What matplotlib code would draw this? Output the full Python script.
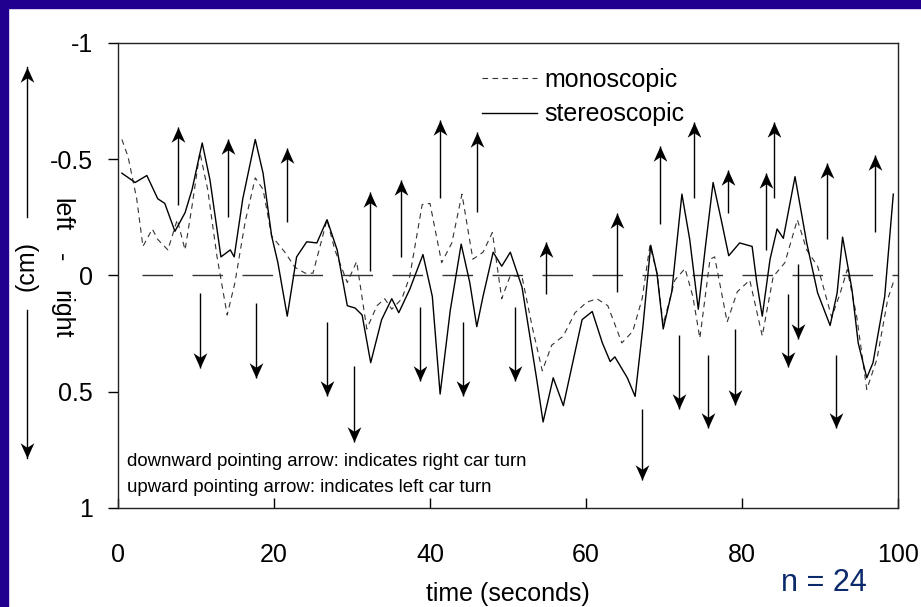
import numpy as np
import matplotlib.pyplot as plt
from matplotlib.lines import Line2D
from matplotlib.patches import Rectangle
from matplotlib.path import Path

plt.rcParams['font.family'] = ['Liberation Sans', 'DejaVu Sans']

# --- lateral position, stereoscopic (solid) ---
stereo_t = [0.5, 2.2, 3.7, 5.1, 6.0, 7.3, 8.6, 9.5, 10.8, 11.8, 13.2, 14.4, 14.9, 16.0,
            17.6, 18.6, 19.7, 20.5, 21.7, 22.9, 24.2, 25.5, 26.8, 28.1, 29.4, 30.4, 31.3,
            32.4, 33.8, 35.1, 36.0, 37.4, 39.1, 40.3, 41.3, 42.6, 44.0, 45.1, 46.0, 46.8,
            48.1, 49.2, 50.3, 51.8, 52.8, 53.7, 54.5, 55.8, 57.1, 58.2, 59.5, 60.8, 62.1,
            63.1, 63.7, 65.3, 66.3, 67.3, 68.3, 69.1, 69.9, 71.0, 72.3, 73.3, 74.4, 75.3,
            76.3, 77.4, 78.3, 79.7, 81.3, 81.9, 82.6, 83.6, 84.5, 85.3, 86.8, 88.3, 89.7,
            91.3, 92.2, 92.9, 94.1, 94.9, 96.0, 96.8, 98.3, 99.4]
stereo_v = [-0.44, -0.40, -0.43, -0.33, -0.31, -0.19, -0.27, -0.37, -0.57, -0.41, -0.08, -0.11,
            -0.08, -0.33, -0.585, -0.44, -0.17, -0.055, 0.175, -0.08, -0.145, -0.14, -0.24,
            -0.11, 0.13, 0.14, 0.17, 0.375, 0.19, 0.10, 0.16, 0.06, -0.09, 0.09, 0.51, 0.15,
            -0.135, 0.03, 0.22, 0.09, -0.10, -0.04, -0.10, 0.05, 0.26, 0.45, 0.63, 0.44, 0.56,
            0.39, 0.19, 0.155, 0.29, 0.37, 0.35, 0.44, 0.52, 0.22, -0.13, -0.01, 0.23, 0.07,
            -0.35, -0.155, 0.145, -0.12, -0.40, -0.23, -0.085, -0.14, -0.125, 0.03, 0.175,
            -0.07, -0.20, -0.16, -0.425, -0.14, 0.075, 0.215, 0.075, -0.165, 0.06, 0.29, 0.44,
            0.375, 0.09, -0.35]

# --- lateral position, monoscopic (dashed) ---
mono_t = [0.5, 1.3, 2.4, 3.2, 4.4, 5.1, 6.4, 7.6, 8.6, 9.5, 10.5, 11.5, 12.7, 14.0, 15.0,
          16.3, 17.6, 18.6, 19.7, 21.4, 22.7, 24.0, 25.0, 26.8, 27.8, 29.4, 30.6, 31.9, 33.2,
          34.2, 35.1, 36.4, 37.4, 39.0, 40.0, 41.5, 42.8, 44.1, 45.5, 46.8, 48.0, 49.2, 50.3,
          51.8, 53.1, 54.4, 55.6, 57.1, 58.6, 60.1, 61.4, 62.8, 64.6, 66.0, 67.2, 68.2, 69.1,
          69.9, 71.4, 72.7, 73.7, 74.6, 75.9, 76.5, 78.1, 79.4, 81.0, 82.6, 84.0, 85.5, 87.1,
          88.3, 89.7, 91.5, 92.6, 93.5, 94.7, 96.0, 97.3, 98.7, 99.4]
mono_v = [-0.585, -0.51, -0.33, -0.125, -0.20, -0.155, -0.11, -0.24, -0.11, -0.30, -0.53, -0.37,
          -0.08, 0.17, 0.03, -0.23, -0.42, -0.37, -0.17, -0.10, -0.035, -0.01, -0.01, -0.24,
          -0.11, 0.03, -0.06, 0.23, 0.13, 0.10, 0.145, 0.10, 0.005, -0.305, -0.31, -0.055,
          -0.14, -0.35, -0.07, -0.10, -0.185, 0.10, 0.0, 0.005, 0.22, 0.41, 0.30, 0.26, 0.16,
          0.115, 0.10, 0.13, 0.29, 0.24, 0.10, -0.13, -0.01, 0.21, 0.02, -0.03, 0.09, 0.27,
          -0.07, -0.08, 0.20, 0.07, 0.02, 0.26, 0.005, -0.055, -0.24, -0.11, -0.04, 0.18,
          0.075, -0.025, 0.175, 0.49, 0.36, 0.10, 0.03]

# --- car turns: left (up arrows) and right (down arrows) ---
up_t = [7.7, 14.1, 21.7, 32.3, 36.3, 41.3, 46.0, 54.9, 64.0, 69.5, 73.8, 78.2, 83.1, 84.1, 90.9, 97.1]
up_tail = [-0.305, -0.25, -0.23, -0.02, -0.08, -0.335, -0.275, 0.08, 0.07, -0.22, -0.335, -0.27,
           -0.11, -0.335, -0.155, -0.185]
up_tip = [-0.64, -0.585, -0.55, -0.357, -0.41, -0.67, -0.615, -0.146, -0.27, -0.555, -0.66, -0.455,
          -0.44, -0.66, -0.485, -0.52]

down_t = [10.5, 17.7, 26.8, 30.3, 38.7, 44.2, 50.9, 67.2, 71.9, 75.6, 79.1, 85.9, 87.2, 92.1]
down_tail = [0.075, 0.12, 0.20, 0.39, 0.135, 0.20, 0.135, 0.575, 0.255, 0.34, 0.23, 0.08, -0.05, 0.34]
down_tip = [0.40, 0.44, 0.52, 0.715, 0.455, 0.52, 0.455, 0.88, 0.575, 0.655, 0.555, 0.395, 0.275, 0.655]

zero_t = [3.1, 100]
zero_v = [0, 0]

# concave arrow heads, tip at the origin
head_up = Path([(0, 0), (0.9, -2), (0, -1.4), (-0.9, -2), (0, 0)],
               [Path.MOVETO, Path.LINETO, Path.LINETO, Path.LINETO, Path.CLOSEPOLY])
head_down = Path([(0, 0), (0.9, 2), (0, 1.4), (-0.9, 2), (0, 0)],
                 [Path.MOVETO, Path.LINETO, Path.LINETO, Path.LINETO, Path.CLOSEPOLY])
head_ms = 22

fig = plt.figure(figsize=(9.21, 6.07), dpi=100)
ax = fig.add_axes([0.1281, 0.1631, 0.8469, 0.7661])

# blue frame on top and left
fig.patches.append(Rectangle((0, 0), 8 / 921, 1, transform=fig.transFigure, color='#210090', zorder=-1))
fig.patches.append(Rectangle((0, 1 - 8 / 607), 1, 8 / 607, transform=fig.transFigure, color='#210090', zorder=-1))

ax.plot(zero_t, zero_v, color='#333333', lw=1.0, linestyle=(0, (22, 14)))
ax.plot(mono_t, mono_v, color='#333333', lw=0.8, linestyle=(0, (5, 4)), dash_joinstyle='round')
ax.plot(stereo_t, stereo_v, color='black', lw=1.0, solid_joinstyle='round')

ax.vlines(up_t, up_tail, up_tip, color='black', lw=1.0)
ax.plot(up_t, up_tip, linestyle='none', marker=head_up, markersize=head_ms,
        color='black', markeredgewidth=0)
ax.vlines(down_t, down_tail, down_tip, color='black', lw=1.0)
ax.plot(down_t, down_tip, linestyle='none', marker=head_down, markersize=head_ms,
        color='black', markeredgewidth=0)

ax.set_xlim(0, 100)
ax.set_ylim(1, -1)
ax.set_xticks([0, 20, 40, 60, 80, 100])
ax.set_yticks([-1, -0.5, 0, 0.5, 1])
ax.set_yticklabels(['-1', '-0.5', '0', '0.5', '1'])
ax.tick_params(axis='x', direction='in', length=7, width=1, pad=25, labelsize=18)
ax.tick_params(axis='y', direction='out', length=7, width=1, pad=11, labelsize=18)
for s in ax.spines.values():
    s.set_linewidth(1)
    s.set_color('#222222')
ax.set_xlabel('time (seconds)', fontsize=18, labelpad=11)

ax.text(1.2, 0.80, 'downward pointing arrow: indicates right car turn', fontsize=13.4, va='center')
ax.text(1.2, 0.91, 'upward pointing arrow: indicates left car turn', fontsize=13.4, va='center')

handles = [Line2D([], [], color='#333333', lw=0.8, linestyle=(0, (5, 4))),
           Line2D([], [], color='black', lw=1.0)]
ax.legend(handles, ['monoscopic', 'stereoscopic'], loc='upper left',
          bbox_to_anchor=(482 / 921, 1 - 68 / 607), bbox_transform=fig.transFigure,
          frameon=False, borderpad=0, borderaxespad=0, handlelength=2.2,
          handletextpad=0.3, labelspacing=0.42, fontsize=18)

# y-axis label and direction arrows outside the axes
fig.text(27 / 921, 1 - 266 / 607, '(cm)', rotation=90, fontsize=18, ha='center', va='center')
fig.text(61 / 921, 1 - 215 / 607, 'left', rotation=270, fontsize=18, ha='center', va='center')
fig.text(61 / 921, 1 - 257 / 607, '-', rotation=270, fontsize=18, ha='center', va='center')
fig.text(61 / 921, 1 - 314 / 607, 'right', rotation=270, fontsize=18, ha='center', va='center')
side_x = [27 / 921, 27 / 921]
side_up = [1 - 217 / 607, 1 - 67 / 607]
side_down = [1 - 310 / 607, 1 - 458 / 607]
fig.add_artist(Line2D(side_x, side_up, color='black', lw=1.0, transform=fig.transFigure))
fig.add_artist(Line2D(side_x[:1], side_up[1:], marker=head_up, markersize=head_ms, color='black',
                      markeredgewidth=0, linestyle='none', transform=fig.transFigure))
fig.add_artist(Line2D(side_x, side_down, color='black', lw=1.0, transform=fig.transFigure))
fig.add_artist(Line2D(side_x[:1], side_down[1:], marker=head_down, markersize=head_ms, color='black',
                      markeredgewidth=0, linestyle='none', transform=fig.transFigure))

fig.text(824 / 921, 1 - 583 / 607, 'n = 24', fontsize=22, color='#0b2a6b', ha='center',
         va='center')

fig.savefig('out.png', dpi=100)
